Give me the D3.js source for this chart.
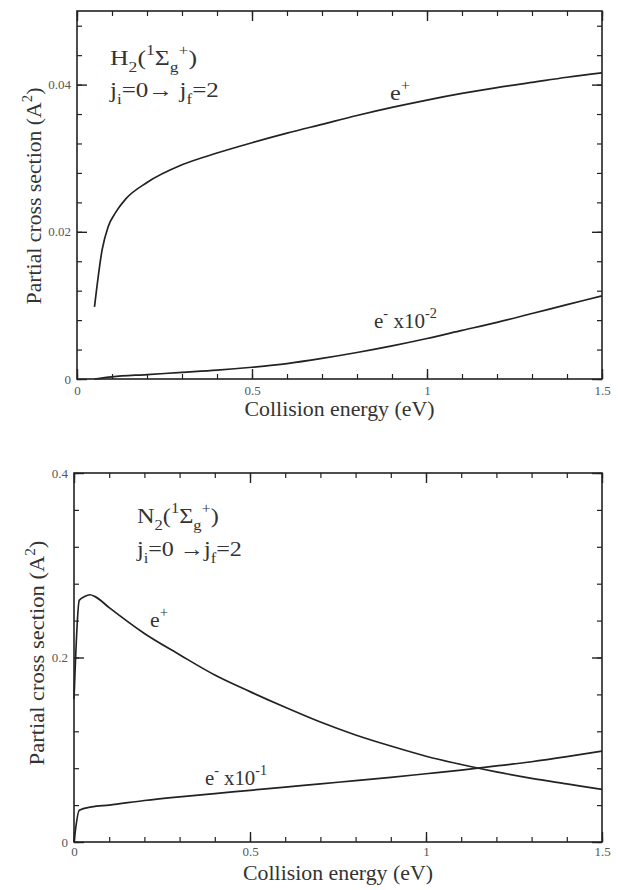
<!DOCTYPE html>
<html>
<head>
<meta charset="utf-8">
<script src="https://cdn.jsdelivr.net/npm/d3@7"></script>
<style>
  body { margin: 0; background: #fff; }
  svg text { font-family: "Liberation Serif", "Times New Roman", Times, Tinos, "DejaVu Serif", "Noto Serif", serif; }
</style>
</head>
<body>
<div id="chart"></div>
<script>
// H2 (1Sigma_g+), j_i=0 -> j_f=2
const h2PosEnergy = [0.05, 0.072, 0.089, 0.11, 0.14, 0.2, 0.3, 0.4, 0.5, 0.6, 0.7, 0.8, 0.9, 1.0, 1.1, 1.2, 1.3, 1.4, 1.5];
const h2PosSigma  = [0.0098, 0.0176, 0.0207, 0.0226, 0.0245, 0.0267, 0.0291, 0.0307, 0.0321, 0.0334, 0.0346, 0.0358, 0.0369, 0.0379, 0.0388, 0.0396, 0.0403, 0.0410, 0.0416];
const h2NegEnergy = [0.05, 0.1, 0.2, 0.3, 0.4, 0.5, 0.6, 0.7, 0.8, 0.9, 1.0, 1.1, 1.2, 1.3, 1.4, 1.5];
const h2NegSigma  = [0.0, 0.0003, 0.0006, 0.0009, 0.0012, 0.0016, 0.0021, 0.0028, 0.0036, 0.0045, 0.0055, 0.0066, 0.0077, 0.0089, 0.0101, 0.0113];

// N2 (1Sigma_g+), j_i=0 -> j_f=2
const n2PosEnergy = [0, 0.015, 0.03, 0.045, 0.06, 0.1, 0.2, 0.3, 0.4, 0.5, 0.6, 0.7, 0.8, 0.9, 1.0, 1.1, 1.2, 1.3, 1.4, 1.5];
const n2PosSigma  = [0.155, 0.262, 0.266, 0.268, 0.266, 0.254, 0.226, 0.203, 0.181, 0.163, 0.146, 0.130, 0.116, 0.104, 0.093, 0.084, 0.076, 0.069, 0.063, 0.057];
const n2NegEnergy = [0, 0.015, 0.05, 0.1, 0.2, 0.3, 0.4, 0.5, 0.6, 0.7, 0.8, 0.9, 1.0, 1.1, 1.2, 1.3, 1.4, 1.5];
const n2NegSigma  = [0, 0.0345, 0.038, 0.040, 0.045, 0.049, 0.0525, 0.056, 0.0595, 0.063, 0.0665, 0.070, 0.074, 0.078, 0.0825, 0.087, 0.0925, 0.0986];

// ticks
const xMajor = [0, 0.5, 1, 1.5];
const xMajorLabels = ["0", "0.5", "1", "1.5"];
const h2YMajor = [0, 0.02, 0.04];
const h2YLabels = ["0", "0.02", "0.04"];
const n2YMajor = [0, 0.2, 0.4];
const n2YLabels = ["0", "0.2", "0.4"];

const serif = '"Liberation Serif", "Times New Roman", Times, Tinos, "DejaVu Serif", "Noto Serif", serif';
const lineColor = "#222";
const textColor = "#333";
const tickColor = "#555";

const svg = d3.select("#chart").append("svg")
    .attr("width", 618)
    .attr("height", 890);

// text with sub/superscripts at the origin: parts = [[string, "sub"|"sup"|undefined], ...]
function richText(parts, size) {
    const t = svg.append("text")
        .attr("font-family", serif)
        .attr("font-size", size)
        .attr("fill", textColor);
    let cur = 0;
    parts.forEach(([s, k]) => {
        const off = k === "sub" ? size * 0.3 : k === "sup" ? -size * 0.45 : 0;
        t.append("tspan")
            .attr("dy", off - cur)
            .attr("font-size", k ? size * 0.68 : size)
            .text(s);
        cur = off;
    });
    return t;
}

// move a text to (x, y) and stretch it to the given width (as in the scanned figure)
function place(t, x, y, width, rotate) {
    const w = t.node().getBBox().width;
    const s = width ? width / w : 1;
    t.attr("transform", `translate(${x},${y})${rotate ? " rotate(-90)" : ""} scale(${s},1)`);
    return t;
}

function drawPanel(p) {
    const x = d3.scaleLinear().domain([0, 1.5]).range([p.left, p.right]);
    const y = d3.scaleLinear().domain([0, p.yMax]).range([p.bottom, p.top]);

    const xMinor = d3.range(0, 1.5001, 0.1);
    const yMinor = d3.range(0, p.yMax + 1e-9, p.yMinorStep);

    const sides = [
        [d3.axisBottom, x, `translate(0,${p.bottom})`, xMinor, xMajor, xMajorLabels],
        [d3.axisTop, x, `translate(0,${p.top})`, xMinor, xMajor, null],
        [d3.axisLeft, y, `translate(${p.left},0)`, yMinor, p.yMajor, p.yLabels],
        [d3.axisRight, y, `translate(${p.right},0)`, yMinor, p.yMajor, null]
    ];

    sides.forEach(([axisFn, scale, tr, minor, major, labels]) => {
        svg.append("g").attr("transform", tr)
            .call(axisFn(scale).tickValues(minor).tickSizeInner(-5).tickSizeOuter(0).tickFormat(() => ""))
            .call(g => g.select(".domain").remove())
            .call(g => g.selectAll("line").attr("stroke", lineColor).attr("stroke-width", 1.2));

        const isX = axisFn === d3.axisBottom || axisFn === d3.axisTop;
        const g = svg.append("g").attr("transform", tr)
            .call(axisFn(scale).tickValues(major).tickSizeInner(-10).tickSizeOuter(0)
                .tickPadding(isX ? p.xPad : 6)
                .tickFormat(labels ? (d, i) => labels[i] : () => ""))
            .call(g => g.select(".domain").remove());
        g.attr("font-family", serif);
        g.selectAll("line").attr("stroke", lineColor).attr("stroke-width", 1.4);
        g.selectAll("text")
            .attr("font-family", serif)
            .attr("font-size", 13)
            .attr("fill", tickColor);
    });

    // frame
    svg.append("rect")
        .attr("x", p.left).attr("y", p.top)
        .attr("width", p.right - p.left).attr("height", p.bottom - p.top)
        .attr("fill", "none").attr("stroke", lineColor).attr("stroke-width", 1.6);

    const line = d3.line()
        .x(d => x(d[0]))
        .y(d => y(d[1]))
        .curve(d3.curveMonotoneX);

    p.series.forEach(s => {
        svg.append("path")
            .datum(d3.zip(s.energy, s.sigma))
            .attr("d", line)
            .attr("fill", "none")
            .attr("stroke", lineColor)
            .attr("stroke-width", 1.7);
        place(richText(s.label, 22), s.labelX, s.labelY, s.labelW);
    });

    // axis titles
    const xt = svg.append("text")
        .attr("text-anchor", "middle")
        .attr("font-family", serif)
        .attr("font-size", 21)
        .attr("fill", textColor)
        .text("Collision energy (eV)");
    place(xt, (p.left + p.right) / 2, p.xTitleY, 190);

    const yt = richText([["Partial cross section (A"], ["2", "sup"], [")"]], 21)
        .attr("text-anchor", "middle");
    place(yt, p.yTitleX, p.yTitleY, p.yTitleW, true);

    // molecule annotation
    place(richText(p.note1, 22), p.noteX, p.noteY1, p.note1W);
    place(richText(p.note2, 22), p.noteX, p.noteY2, p.note2W);
}

drawPanel({
    left: 77, right: 602, top: 11, bottom: 379,
    yMax: 0.05, yMinorStep: 0.004, yMajor: h2YMajor, yLabels: h2YLabels,
    xPad: 7, xTitleY: 416, yTitleX: 41, yTitleY: 196, yTitleW: 217,
    noteX: 110, noteY1: 65, noteY2: 97, note1W: 87, note2W: 110,
    note1: [["H"], ["2", "sub"], ["("], ["1", "sup"], ["Σ"], ["g", "sub"], ["+", "sup"], [")"]],
    note2: [["j"], ["i", "sub"], ["=0→ j"], ["f", "sub"], ["=2"]],
    series: [
        { energy: h2PosEnergy, sigma: h2PosSigma, labelX: 390, labelY: 100, labelW: 20, label: [["e"], ["+", "sup"]] },
        { energy: h2NegEnergy, sigma: h2NegSigma, labelX: 374, labelY: 328, labelW: 63, label: [["e"], ["-", "sup"], [" x10"], ["-2", "sup"]] }
    ]
});

drawPanel({
    left: 74, right: 602, top: 473, bottom: 842,
    yMax: 0.4, yMinorStep: 0.04, yMajor: n2YMajor, yLabels: n2YLabels,
    xPad: 5, xTitleY: 880, yTitleX: 44, yTitleY: 653, yTitleW: 225,
    noteX: 137, noteY1: 523, noteY2: 556, note1W: 82, note2W: 106,
    note1: [["N"], ["2", "sub"], ["("], ["1", "sup"], ["Σ"], ["g", "sub"], ["+", "sup"], [")"]],
    note2: [["j"], ["i", "sub"], ["=0 →j"], ["f", "sub"], ["=2"]],
    series: [
        { energy: n2PosEnergy, sigma: n2PosSigma, labelX: 150, labelY: 627, labelW: 18, label: [["e"], ["+", "sup"]] },
        { energy: n2NegEnergy, sigma: n2NegSigma, labelX: 205, labelY: 785, labelW: 62, label: [["e"], ["-", "sup"], [" x10"], ["-1", "sup"]] }
    ]
});
</script>
</body>
</html>
